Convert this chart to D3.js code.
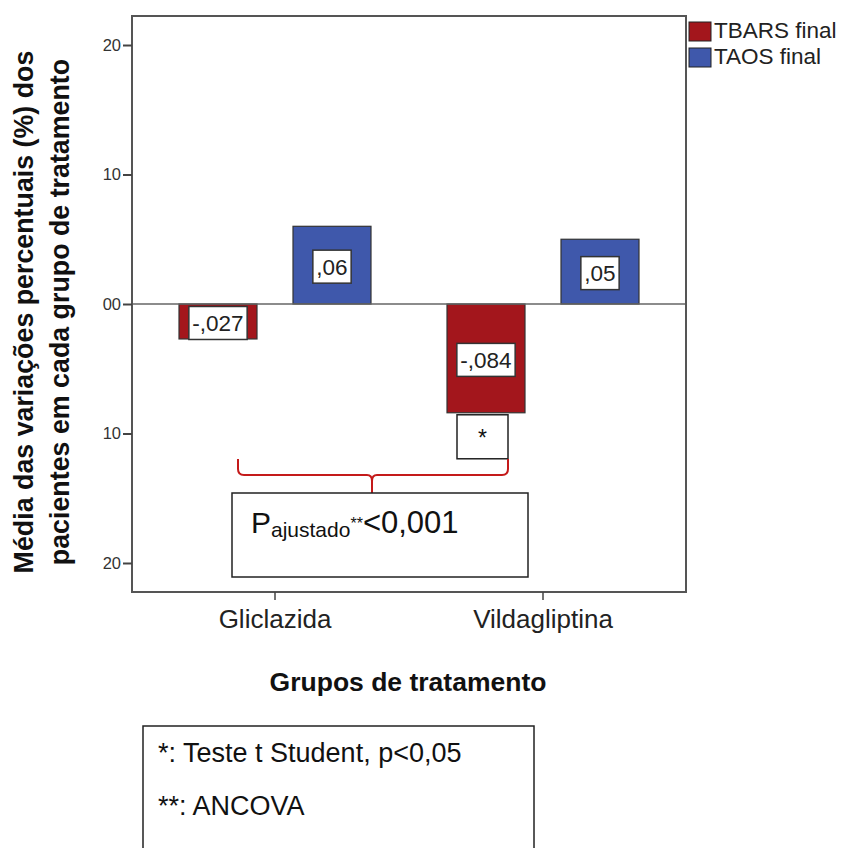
<!DOCTYPE html>
<html>
<head>
<meta charset="utf-8">
<script src="https://cdn.jsdelivr.net/npm/d3@7"></script>
<style>
  html, body { margin: 0; padding: 0; background: #fff; }
  svg text { font-family: "Liberation Sans", Arial, sans-serif; }
</style>
</head>
<body>
<svg id="chart" width="841" height="848"></svg>
<script>
// Treatment groups and the two measured series (mean change, as a fraction)
const categories = ["Gliclazida", "Vildagliptina"];
const seriesNames = ["TBARS final", "TAOS final"];
const tbarsValues = [-0.027, -0.084];
const taosValues = [0.06, 0.05];
const seriesColors = ["#a3161c", "#3f58ab"];
const yTickValues = [0.2, 0.1, 0, -0.1, -0.2];
const yTickLabels = ["20", "10", "00", "10", "20"];

const rows = categories.map((c, i) => ({
  category: c,
  values: [
    { series: seriesNames[0], value: tbarsValues[i] },
    { series: seriesNames[1], value: taosValues[i] }
  ]
}));

const svg = d3.select("#chart");
const plot = { left: 132, right: 686, top: 16, bottom: 592 };

const y = d3.scaleLinear().domain([-0.2224, 0.2224]).range([plot.bottom, plot.top]);
const x0 = d3.scaleBand().domain(categories).range([141, 677])
  .paddingInner(0.2836).paddingOuter(0.1418);
const x1 = d3.scaleBand().domain(seriesNames).range([0, x0.bandwidth()])
  .paddingInner(0.3158).paddingOuter(0);
const color = d3.scaleOrdinal().domain(seriesNames).range(seriesColors);

// Value label text in the "-,027" style
const fmt = v => String(v).replace("0.", ",");

// Bars
const groups = svg.append("g").selectAll("g").data(rows).join("g")
  .attr("transform", d => `translate(${x0(d.category)},0)`);

groups.selectAll("rect").data(d => d.values).join("rect")
  .attr("x", d => x1(d.series))
  .attr("width", x1.bandwidth())
  .attr("y", d => y(Math.max(0, d.value)))
  .attr("height", d => Math.abs(y(d.value) - y(0)))
  .attr("fill", d => color(d.series))
  .attr("stroke", "#333")
  .attr("stroke-width", 1.2);

// Zero reference line
svg.append("line")
  .attr("x1", plot.left).attr("x2", plot.right)
  .attr("y1", y(0)).attr("y2", y(0))
  .attr("stroke", "#666").attr("stroke-width", 1.5);

// Value label boxes centred on each bar
groups.each(function(row) {
  const g = d3.select(this);
  row.values.forEach(d => {
    const cx = x1(d.series) + x1.bandwidth() / 2;
    const cy = (y(d.value) + y(0)) / 2 + 1.5;
    const t = g.append("text")
      .attr("x", cx).attr("y", cy + 8)
      .attr("text-anchor", "middle")
      .attr("font-size", 22.5)
      .attr("fill", "#222")
      .text(fmt(d.value));
    const w = t.node().getComputedTextLength() + 7;
    g.insert("rect", "text")
      .attr("x", cx - w / 2).attr("y", cy - 16.5)
      .attr("width", w).attr("height", 33)
      .attr("fill", "#fff").attr("stroke", "#333").attr("stroke-width", 1.5);
  });
});

// Plot frame
svg.append("rect")
  .attr("x", plot.left).attr("y", plot.top)
  .attr("width", plot.right - plot.left).attr("height", plot.bottom - plot.top)
  .attr("fill", "none").attr("stroke", "#555").attr("stroke-width", 2);

// Y axis
const yAxis = svg.append("g")
  .attr("transform", `translate(${plot.left},0)`)
  .call(d3.axisLeft(y).tickValues(yTickValues).tickSize(9).tickPadding(2)
    .tickFormat((d, i) => yTickLabels[i]));
yAxis.select(".domain").remove();
yAxis.selectAll(".tick line").attr("stroke", "#444").attr("stroke-width", 2);
yAxis.selectAll(".tick text").attr("font-size", 16.5).attr("fill", "#333")
  .attr("font-family", "Liberation Sans, Arial, sans-serif");

// X axis
const xAxis = svg.append("g")
  .attr("transform", `translate(0,${plot.bottom})`)
  .call(d3.axisBottom(x0).tickSize(8).tickPadding(10));
xAxis.select(".domain").remove();
xAxis.selectAll(".tick line").attr("stroke", "#444").attr("stroke-width", 1.5);
xAxis.selectAll(".tick text").attr("font-size", 26).attr("fill", "#222")
  .attr("font-family", "Liberation Sans, Arial, sans-serif");

// Axis titles
svg.append("text")
  .attr("x", 408).attr("y", 691)
  .attr("text-anchor", "middle").attr("font-size", 26.5).attr("font-weight", "bold")
  .attr("fill", "#111")
  .text("Grupos de tratamento");

const yTitle = svg.append("text")
  .attr("transform", "translate(0,312) rotate(-90)")
  .attr("text-anchor", "middle").attr("font-size", 26.8).attr("font-weight", "bold")
  .attr("fill", "#111");
yTitle.append("tspan").attr("x", 0).attr("y", 33).text("Média das variações percentuais (%) dos");
yTitle.append("tspan").attr("x", 0).attr("y", 69).text("pacientes em cada grupo de tratamento");

// Legend
const legend = svg.append("g").attr("transform", "translate(689,22)");
seriesNames.forEach((s, i) => {
  legend.append("rect")
    .attr("x", 0).attr("y", i * 26)
    .attr("width", 22).attr("height", 19)
    .attr("fill", color(s)).attr("stroke", "#222").attr("stroke-width", 1);
  legend.append("text")
    .attr("x", 25).attr("y", i * 26 + 16)
    .attr("font-size", 22.5).attr("fill", "#222")
    .text(s);
});

// Significance marker under the Vildagliptina TBARS bar
const vx = x0(categories[1]) + x1(seriesNames[0]);
const vy = y(tbarsValues[1]);
svg.append("rect")
  .attr("x", vx + 10).attr("y", vy + 2)
  .attr("width", 51).attr("height", 44)
  .attr("fill", "#fff").attr("stroke", "#222").attr("stroke-width", 1.5);
svg.append("text")
  .attr("x", vx + 35.5).attr("y", vy + 33)
  .attr("text-anchor", "middle").attr("font-size", 23).attr("fill", "#111")
  .text("*");

// Red brace joining the two TBARS groups
const bx0 = 238, bx1 = 508, bTop = 459, bMid = 475, bBot = 493;
const bc = (bx0 + bx1) / 2 - 1;
svg.append("path")
  .attr("d", `M${bx0},${bTop} L${bx0},${bMid - 6} Q${bx0},${bMid} ${bx0 + 6},${bMid}
              L${bc - 5},${bMid} Q${bc},${bMid} ${bc},${bMid + 6} L${bc},${bBot}
              M${bc},${bMid + 6} Q${bc},${bMid} ${bc + 5},${bMid}
              L${bx1 - 6},${bMid} Q${bx1},${bMid} ${bx1},${bMid - 6} L${bx1},${bTop}`)
  .attr("fill", "none").attr("stroke", "#c41a1a").attr("stroke-width", 2);

// Adjusted p-value box
svg.append("rect")
  .attr("x", 232).attr("y", 493).attr("width", 296).attr("height", 84)
  .attr("fill", "#fff").attr("stroke", "#222").attr("stroke-width", 1.5);
const pText = svg.append("text").attr("x", 251).attr("y", 533).attr("fill", "#111");
pText.append("tspan").attr("font-size", 30).text("P");
pText.append("tspan").attr("font-size", 21).attr("dy", 4).text("ajustado");
pText.append("tspan").attr("font-size", 16).attr("dy", -8).text("**");
pText.append("tspan").attr("font-size", 31).attr("dy", 4).text("<0,001");

// Footnote box
svg.append("rect")
  .attr("x", 143).attr("y", 726).attr("width", 391).attr("height", 140)
  .attr("fill", "#fff").attr("stroke", "#222").attr("stroke-width", 1.5);
svg.append("text").attr("x", 158).attr("y", 762)
  .attr("font-size", 27).attr("fill", "#111").text("*: Teste t Student, p<0,05");
svg.append("text").attr("x", 158).attr("y", 815)
  .attr("font-size", 27).attr("fill", "#111").text("**: ANCOVA");
</script>
</body>
</html>
